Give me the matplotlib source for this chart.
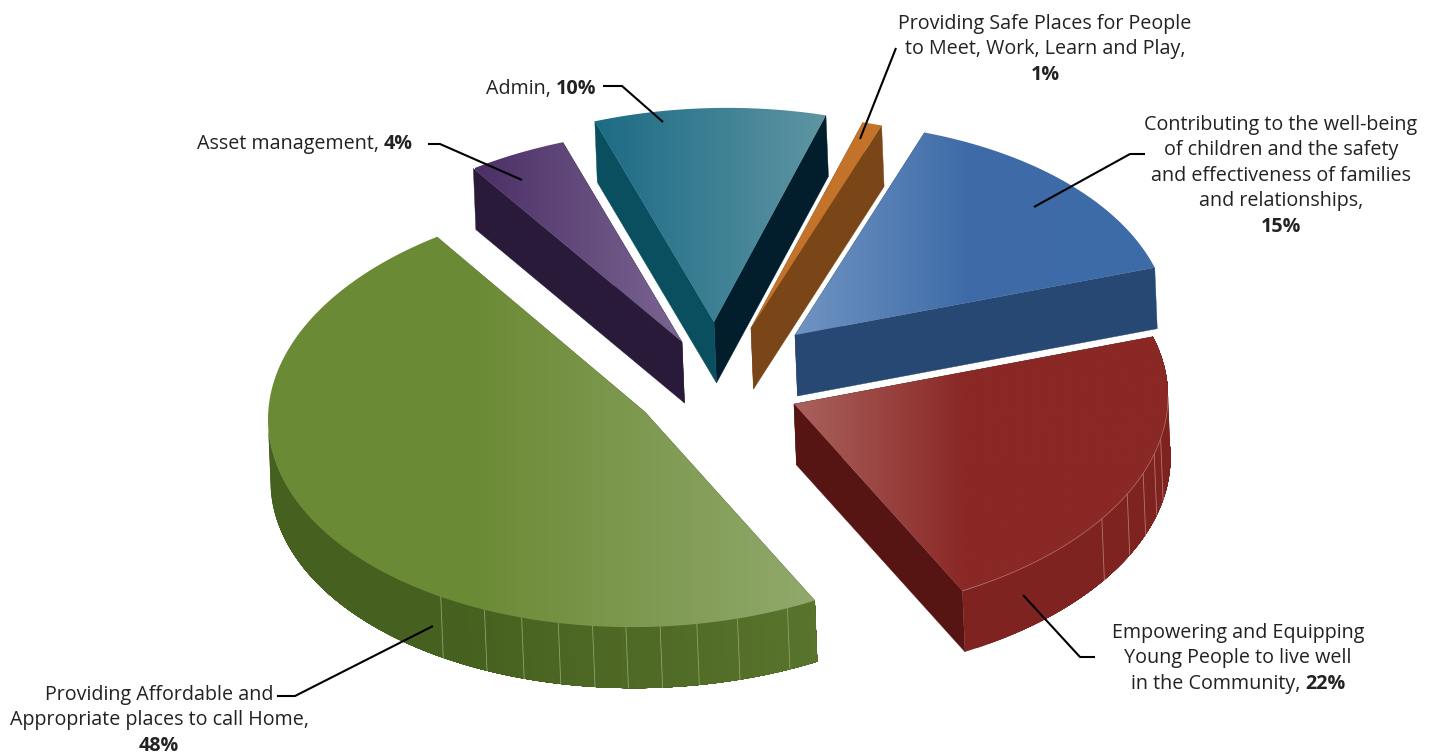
import numpy as np
import matplotlib
matplotlib.use('Agg')
import matplotlib.pyplot as plt
from matplotlib.colors import LinearSegmentedColormap
from matplotlib.patches import Polygon

# slice values in percent, counter clockwise from start_angle
names = ['Contributing', 'Safe Places', 'Admin', 'Asset management', 'Affordable Home', 'Young People']
values = [14.83, 0.83, 9.89, 4.2, 48.13, 22.12]

label_lines = [
    ['Contributing to the well-being', 'of children and the safety', 'and effectiveness of families', 'and relationships,', '|15%'],
    ['Providing Safe Places for People', 'to Meet, Work, Learn and Play,', '|1%'],
    ['Admin, |10%'],
    ['Asset management, |4%'],
    ['Providing Affordable and', 'Appropriate places to call Home,', '|48%'],
    ['Empowering and Equipping', 'Young People to live well', 'in the Community, |22%'],
]

# layout, in pixels of the 1440x753 figure
start_angle = 16.4
center = (720, 389)
slice_rx = [375, 378, 378, 378, 377, 374]
slice_ry = [213, 213, 214, 213, 215, 213]
shear = -0.02
depth_x, depth_y = 2.5, 61
explode_x = [75, 31, -6, -38, -75, 74]
explode_y = [-54, -61, -67, -47, 23, 15]

label_x = [1281, 1045, 541, 305, 159, 1238]
label_y = [130, 29, 94, 149, 700, 638]
line_gap = 25.4

leaders = [
    ([1145, 1130, 1034], [154, 154, 207]),
    ([896, 860], [48, 139]),
    ([603, 622, 663], [86, 86, 122]),
    ([428, 440, 522], [144, 144, 180]),
    ([277, 295, 433], [696, 696, 626]),
    ([1095, 1080, 1023], [657, 657, 595]),
]

# colours: gradient stops as (x pixel, colour), faces of start and end cut, rim
gradients = [
    [(795, '#7094c3'), (965, '#3f6ca8'), (1160, '#3d6ba7')],
    [(750, '#c4732a'), (890, '#c4732a')],
    [(594, '#1c6b84'), (714, '#3d8094'), (825, '#5f95a3')],
    [(475, '#4b2f66'), (682, '#7b6592')],
    [(268, '#6b8a35'), (470, '#6b8a35'), (815, '#91a96c')],
    [(794, '#aa625e'), (965, '#8a2826'), (1170, '#8a2826')],
]
face_start = ['#274872', '#7a4617', '#021e2c', '#2a1a3a', '#4a6420', '#561413']
face_end = ['#274872', '#7a4617', '#0a4f5f', '#2a1a3a', '#4a6420', '#561413']
rim_left = ['#274872', '#7a4617', '#0a4f5f', '#2a1a3a', '#46601f', '#7f2321']
rim_right = ['#274872', '#7a4617', '#0a4f5f', '#2a1a3a', '#5a752c', '#7f2321']

# facet lines on the rim, angles in degrees
facets = {4: [292.2, 284.2, 277.9, 272.3, 267.1, 262.0, 256.7, 250.9, 244.8, 237.2],
          5: [325.4, 333.0, 339.0, 344.4, 348.6]}
facet_col = {4: '#8ea36a', 5: '#b57672'}


def arc(i, a0, a1, ox, oy):
    t = np.radians(np.linspace(a0, a1, max(int(abs(a1 - a0) * 2), 2)))
    dx = slice_rx[i] * np.cos(t)
    return ox + dx, oy - slice_ry[i] * np.sin(t) + shear * dx


def mix(c0, c1, f):
    c0 = np.array(matplotlib.colors.to_rgb(c0))
    c1 = np.array(matplotlib.colors.to_rgb(c1))
    return c0 + (c1 - c0) * f


def draw_slice(ax, i, a0, a1):
    ox = center[0] + explode_x[i]
    oy = center[1] + explode_y[i]
    xs, ys = arc(i, a0, a1, ox, oy)

    # cut faces first, they are hidden by the top where they face away
    for end, col in ((a0, face_start[i]), (a1, face_end[i])):
        ex, ey = arc(i, end, end, ox, oy)
        ex, ey = ex[0], ey[0]
        ax.add_patch(Polygon([(ox, oy), (ex, ey), (ex + depth_x, ey + depth_y),
                              (ox + depth_x, oy + depth_y)], fc=col, ec=col, lw=0.3, zorder=2 + i * 0.01))

    # rim, only the part turned to the viewer. each piece runs on to the end of
    # the rim and the next one paints over it, that way no seams show
    s0, s1 = max(a0, 180), a1
    if s1 > s0:
        edges = np.arange(s0, s1, 2.0)
        for k, e in enumerate(edges):
            px, py = arc(i, e, s1, ox, oy)
            col = mix(rim_left[i], rim_right[i], min(max((e - 240) / 60, 0), 1))
            pts = list(zip(px, py)) + list(zip(px[::-1] + depth_x, py[::-1] + depth_y))
            ax.add_patch(Polygon(pts, fc=col, ec='none', zorder=3 + k * 0.0001))
    if i in facets:
        for ang in facets[i]:
            px, py = arc(i, ang, ang, ox, oy)
            ax.plot([px[0], px[0] + depth_x], [py[0], py[0] + depth_y], color=facet_col[i], lw=0.6, zorder=3.5)

    # top surface with horizontal gradient clipped to the slice
    outline = [(ox, oy)] + list(zip(xs, ys))
    patch = Polygon(outline, fc='none', ec='none', transform=ax.transData)
    ax.add_patch(patch)
    stops = gradients[i]
    x0, x1 = stops[0][0], stops[-1][0]
    cmap = LinearSegmentedColormap.from_list(
        names[i], [((x - x0) / (x1 - x0), c) for x, c in stops])
    img = ax.imshow(np.linspace(0, 1, 512).reshape(1, -1), cmap=cmap, aspect='auto',
                    extent=(x0, x1, max(ys.max(), oy) + 5, min(ys.min(), oy) - 5),
                    zorder=4, interpolation='bilinear')
    img.set_clip_path(patch)

    if i == 5:
        # thin light line where the top meets the rim
        px, py = arc(i, a0, 360, ox, oy)
        ax.plot(px, py, color=facet_col[i], lw=0.5, zorder=4.5)


def draw_label(ax, lines, cx, y0, renderer):
    for n, line in enumerate(lines):
        parts = line.split('|')
        y = y0 + n * line_gap
        runs = []
        for j, part in enumerate(parts):
            if part:
                runs.append(ax.text(0, y, part, fontsize=14.2, family='Open Sans', color='#222222',
                                    fontweight='bold' if j == 1 else 'normal',
                                    va='baseline', ha='left', zorder=6))
        widths = [r.get_window_extent(renderer).width for r in runs]
        x = cx - sum(widths) / 2
        for r, w in zip(runs, widths):
            r.set_x(x)
            x += w


fig = plt.figure(figsize=(14.4, 7.53), dpi=100)
ax = fig.add_axes([0, 0, 1, 1])

angle = start_angle
for i, v in enumerate(values):
    sweep = v * 3.6
    draw_slice(ax, i, angle, angle + sweep)
    angle += sweep

for lx, ly in leaders:
    ax.plot(lx, ly, color='black', lw=1.5, zorder=5, solid_capstyle='butt')

ax.set_xlim(0, 1440)
ax.set_ylim(753, 0)
ax.axis('off')

renderer = fig.canvas.get_renderer()
for lines, cx, cy in zip(label_lines, label_x, label_y):
    draw_label(ax, lines, cx, cy, renderer)

fig.savefig('out.png', dpi=100, facecolor='white')
